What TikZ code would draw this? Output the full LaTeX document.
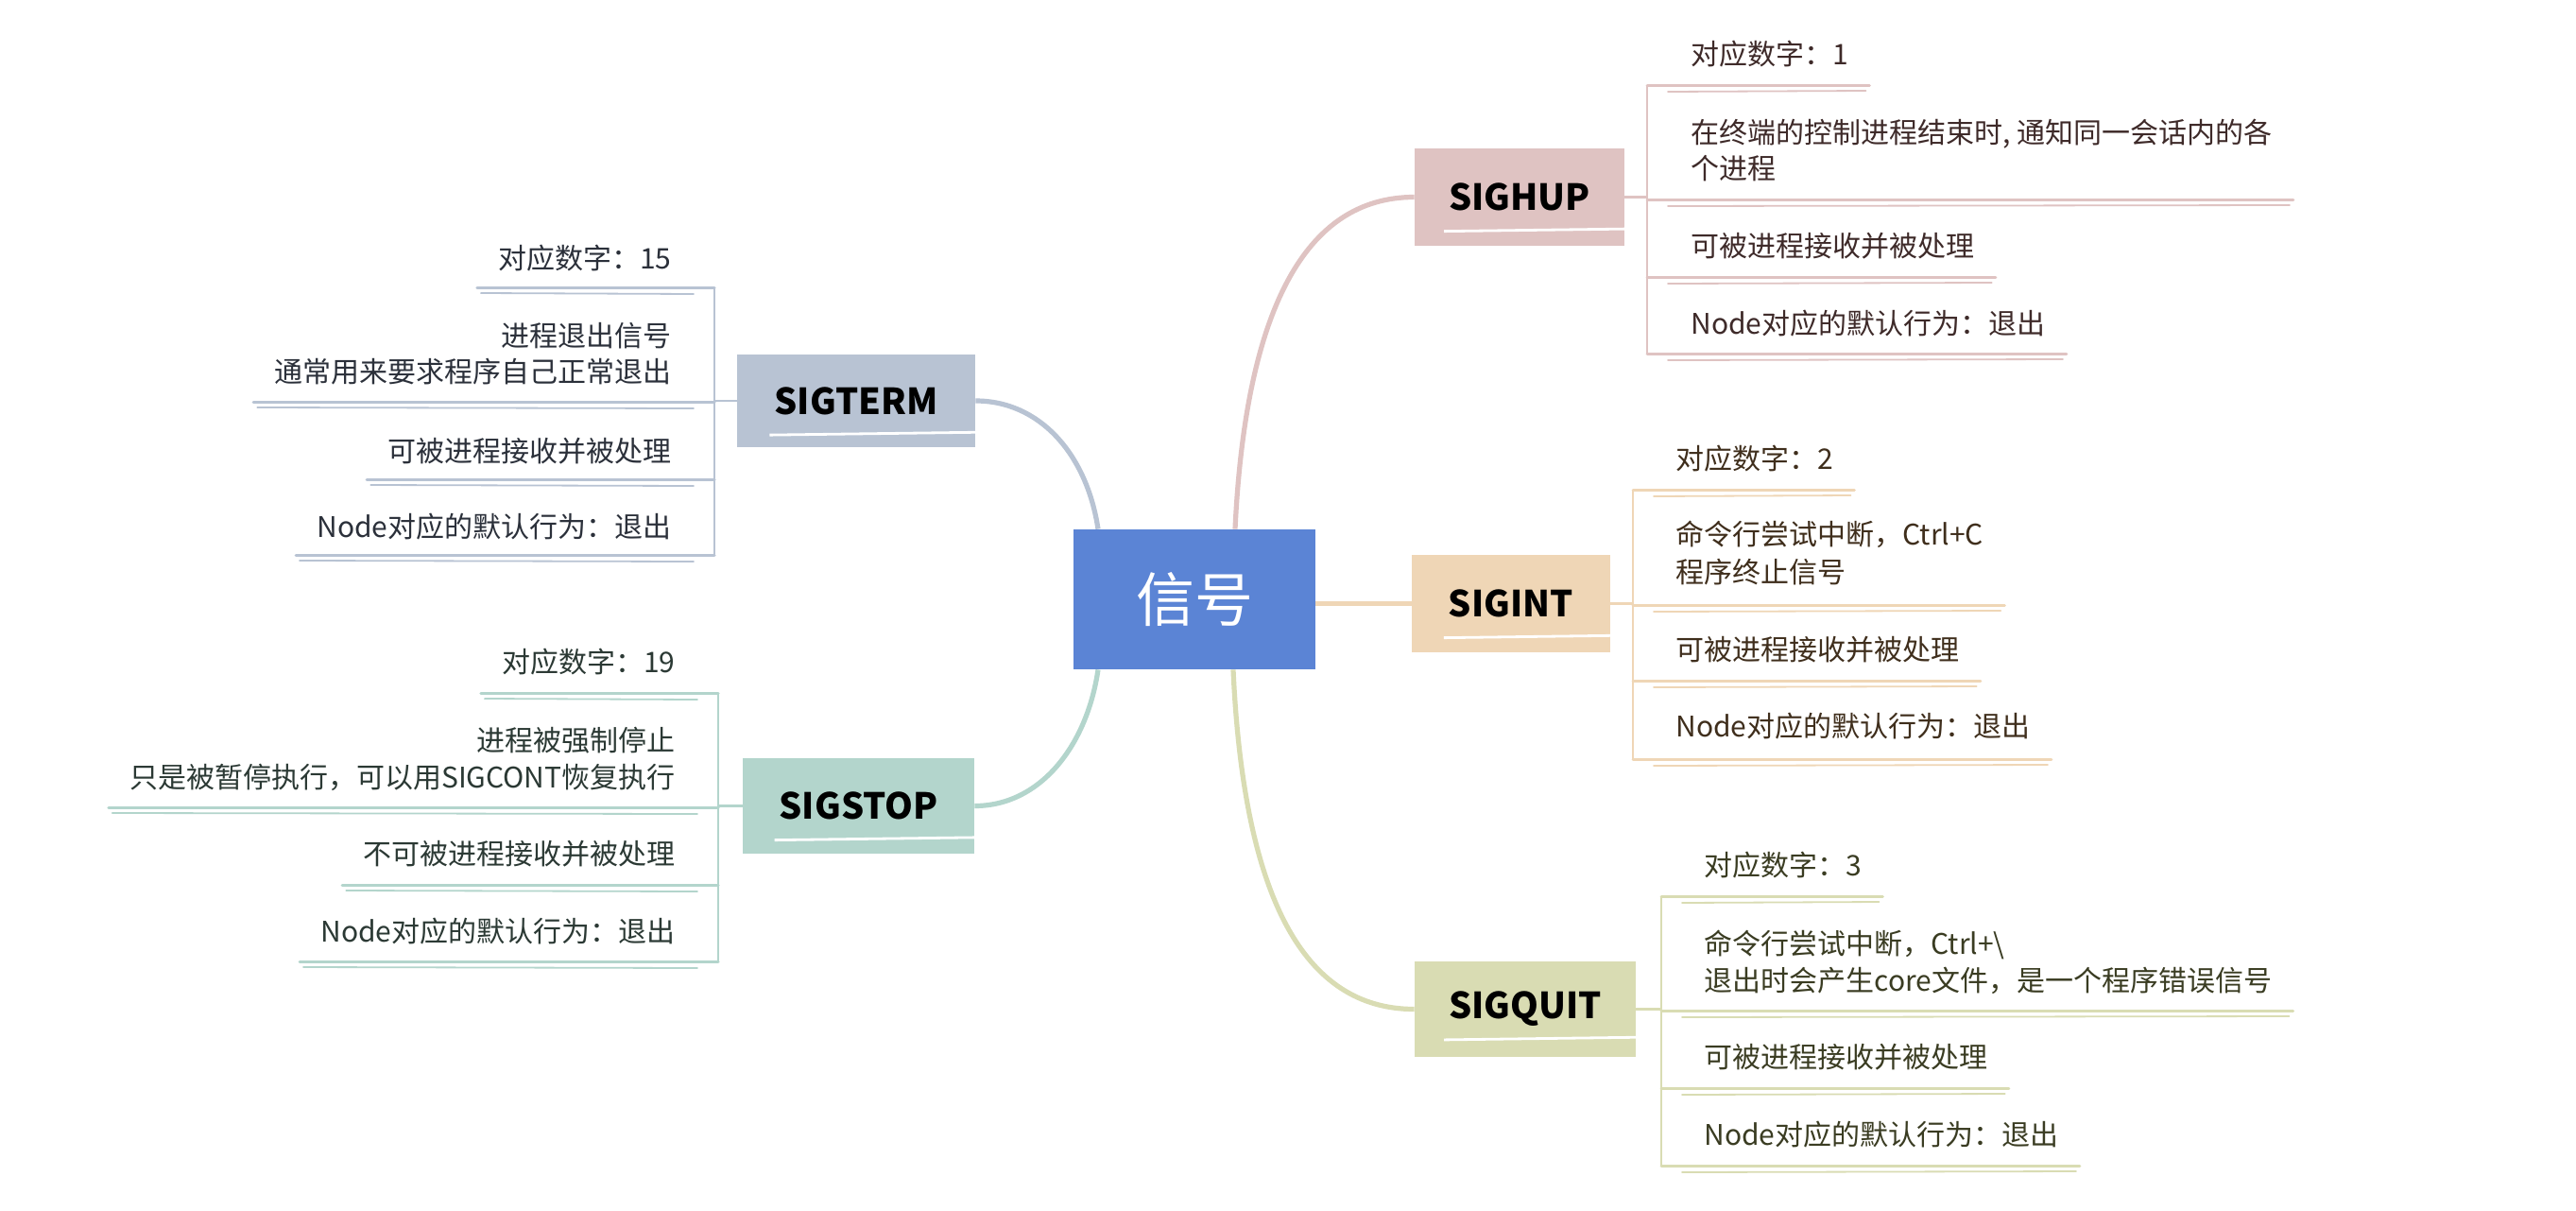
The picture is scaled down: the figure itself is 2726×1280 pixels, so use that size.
\documentclass[tikz,border=0pt]{standalone}
\usepackage{fontspec}
\setmainfont{Noto Sans CJK SC}
\usetikzlibrary{calc,backgrounds}
\definecolor{cblue}{HTML}{5B84D5}
\definecolor{chup}{HTML}{DFC3C2}
\definecolor{cint}{HTML}{EFD6B6}
\definecolor{cquit}{HTML}{D9DCB3}
\definecolor{cterm}{HTML}{B8C3D3}
\definecolor{cstop}{HTML}{B3D5CC}
\definecolor{thup}{HTML}{3E2A29}
\definecolor{tint}{HTML}{3F2E1C}
\definecolor{tquit}{HTML}{3A3C22}
\definecolor{tterm}{HTML}{2B303A}
\definecolor{tstop}{HTML}{2B3934}
\newcommand{\myulR}[4]{%
  \coordinate (tmp) at (#1,#2);
  \draw[ulmain,#4] (tmp) -- ($(#3.east |- tmp)+(22,0)$);
  \draw[ulsub,#4] ($(tmp)+(22,7)$) -- ($(#3.east |- tmp)+(18,6)$);
}
\newcommand{\myulL}[4]{%
  \coordinate (tmp) at (#1,#2);
  \draw[ulmain,#4] (tmp) -- ($(#3.west |- tmp)+(-22,0)$);
  \draw[ulsub,#4] ($(tmp)+(-22,7)$) -- ($(#3.west |- tmp)+(-18,6)$);
}
\begin{document}
\begin{tikzpicture}[x=0.5pt,y=-0.5pt,
  item/.style={font=\fontsize{15pt}{20pt}\selectfont, inner sep=0pt},
  itemR/.style={item, anchor=base west},
  itemL/.style={item, anchor=base east},
  conn/.style={line width=2.6pt},
  ulmain/.style={line width=1.5pt, line cap=round},
  ulsub/.style={line width=0.9pt, line cap=round},
  vbar/.style={line width=1.1pt},
  sub/.style={font=\fontsize{19pt}{20pt}\selectfont\bfseries, inner sep=0pt, text=black,
    path picture={
      \fill[#1] (path picture bounding box.north west) rectangle (path picture bounding box.south east);
      \begin{scope}[shift={(path picture bounding box.north west)}]
        \draw[white,line width=1.4pt] (-5,22) -- (300,18);
        \draw[white,line width=1pt] (-5,50) -- (28,49);
        \draw[white,line width=1pt] (205,53) -- (300,50);
        \draw[white,line width=1.4pt] (-5,80) -- (300,84);
      \end{scope}
    }}
]
\useasboundingbox (0,0) rectangle (2726,1280);

% central node
\node[fill=cblue, text=white, font=\fontsize{31pt}{31pt}\selectfont, minimum width=128pt, minimum height=74pt, inner sep=0pt] (c) at (1264,634) {信号};

% branch nodes
\node[sub=chup, minimum width=111pt, minimum height=51.5pt] (hup) at (1608,208.5) {SIGHUP};
\node[sub=cint, minimum width=105pt, minimum height=51.5pt] (int) at (1599,638.5) {SIGINT};
\node[sub=cquit, minimum width=117pt, minimum height=50.5pt] (quit) at (1614,1067.5) {SIGQUIT};
\node[sub=cterm, minimum width=126pt, minimum height=49pt] (term) at (906,424) {SIGTERM};
\node[sub=cstop, minimum width=122.5pt, minimum height=50.5pt] (stop) at (908.5,852.5) {SIGSTOP};

\begin{scope}[on background layer]
  \fill[white] (0,0) rectangle (2726,1280);
  \draw[conn,chup] ($(c.north)+(43,0)$) .. controls (1318,330) and (1380,208.5) .. (hup.west);
  \draw[conn,cquit] ($(c.south)+(41,0)$) .. controls (1316,950) and (1380,1067.5) .. (quit.west);
  \draw[conn,cterm] ($(c.north)+(-102,0)$) .. controls (1150,480) and (1100,424) .. (term.east);
  \draw[conn,cstop] ($(c.south)+(-102,0)$) .. controls (1150,790) and (1100,852.5) .. (stop.east);
  \draw[conn,cint] (c.east |- int.west) -- (int.west);
\end{scope}

% SIGHUP items
\node[itemR, text=thup] (h1) at (1789,68) {对应数字：1};
\node[itemR, text=thup] (h2a) at (1789,151) {在终端的控制进程结束时, 通知同一会话内的各};
\node[itemR, text=thup] (h2b) at (1789,189) {个进程};
\node[itemR, text=thup] (h3) at (1789,271) {可被进程接收并被处理};
\node[itemR, text=thup] (h4) at (1789,353) {Node对应的默认行为：退出};
\draw[vbar,chup] (1743,90) -- (1743,374);
\coordinate (hv) at (1743,208.5);
\draw[vbar,chup] (hup.east) -- (hv);
\myulR{1743}{90}{h1}{chup}
\myulR{1743}{211}{h2a}{chup}
\myulR{1743}{293}{h3}{chup}
\myulR{1743}{374}{h4}{chup}

% SIGINT items
\node[itemR, text=tint] (i1) at (1773,496) {对应数字：2};
\node[itemR, text=tint] (i2a) at (1773,576) {命令行尝试中断，Ctrl+C};
\node[itemR, text=tint] (i2b) at (1773,616) {程序终止信号};
\node[itemR, text=tint] (i3) at (1773,698) {可被进程接收并被处理};
\node[itemR, text=tint] (i4) at (1773,779) {Node对应的默认行为：退出};
\draw[vbar,cint] (1728,518) -- (1728,803);
\coordinate (iv) at (1728,638.5);
\draw[vbar,cint] (int.east) -- (iv);
\myulR{1728}{518}{i1}{cint}
\myulR{1728}{640}{i2a}{cint}
\myulR{1728}{720}{i3}{cint}
\myulR{1728}{803}{i4}{cint}

% SIGQUIT items
\node[itemR, text=tquit] (q1) at (1803,926) {对应数字：3};
\node[itemR, text=tquit] (q2a) at (1803,1009) {命令行尝试中断，Ctrl+\textbackslash};
\node[itemR, text=tquit] (q2b) at (1803,1048) {退出时会产生core文件，是一个程序错误信号};
\node[itemR, text=tquit] (q3) at (1803,1129) {可被进程接收并被处理};
\node[itemR, text=tquit] (q4) at (1803,1211) {Node对应的默认行为：退出};
\draw[vbar,cquit] (1758,948) -- (1758,1233);
\coordinate (qv) at (1758,1067.5);
\draw[vbar,cquit] (quit.east) -- (qv);
\myulR{1758}{948}{q1}{cquit}
\myulR{1758}{1069}{q2b}{cquit}
\myulR{1758}{1151}{q3}{cquit}
\myulR{1758}{1233}{q4}{cquit}

% SIGTERM items
\node[itemL, text=tterm] (t1) at (711,284) {对应数字：15};
\node[itemL, text=tterm] (t2a) at (711,366) {进程退出信号};
\node[itemL, text=tterm] (t2b) at (711,404) {通常用来要求程序自己正常退出};
\node[itemL, text=tterm] (t3) at (711,488) {可被进程接收并被处理};
\node[itemL, text=tterm] (t4) at (711,568) {Node对应的默认行为：退出};
\draw[vbar,cterm] (756,304) -- (756,587);
\coordinate (tv) at (756,424);
\draw[vbar,cterm] (term.west) -- (tv);
\myulL{756}{304}{t1}{cterm}
\myulL{756}{425}{t2b}{cterm}
\myulL{756}{507}{t3}{cterm}
\myulL{756}{587}{t4}{cterm}

% SIGSTOP items
\node[itemL, text=tstop] (s1) at (715,711) {对应数字：19};
\node[itemL, text=tstop] (s2a) at (715,794) {进程被强制停止};
\node[itemL, text=tstop] (s2b) at (715,833) {只是被暂停执行，可以用SIGCONT恢复执行};
\node[itemL, text=tstop] (s3) at (715,914) {不可被进程接收并被处理};
\node[itemL, text=tstop] (s4) at (715,996) {Node对应的默认行为：退出};
\draw[vbar,cstop] (760,733) -- (760,1017);
\coordinate (sv) at (760,852.5);
\draw[vbar,cstop] (stop.west) -- (sv);
\myulL{760}{733}{s1}{cstop}
\myulL{760}{854}{s2b}{cstop}
\myulL{760}{936}{s3}{cstop}
\myulL{760}{1017}{s4}{cstop}
\end{tikzpicture}
\end{document}
